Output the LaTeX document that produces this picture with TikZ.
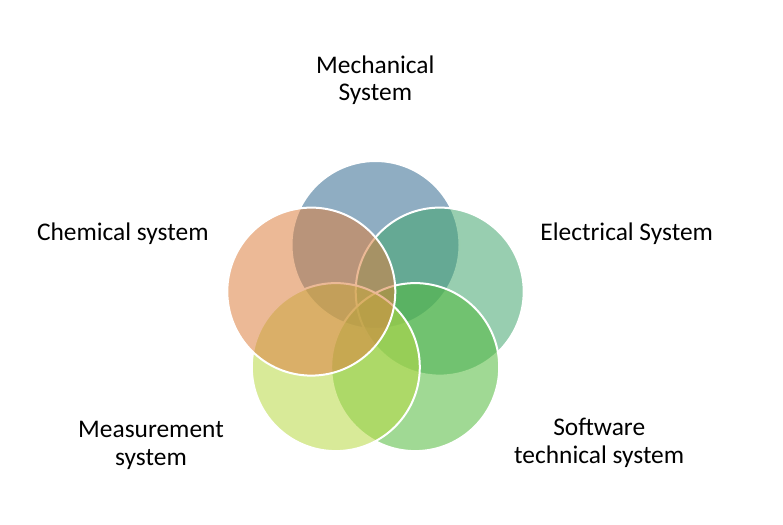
\documentclass[tikz,border=0pt]{standalone}
\usepackage{fontspec}
\setmainfont{Carlito}
\definecolor{mechblue}{RGB}{51,106,144}
\definecolor{elecgreen}{RGB}{68,166,111}
\definecolor{softgreen}{RGB}{82,186,60}
\definecolor{measlime}{RGB}{184,217,68}
\definecolor{chemorange}{RGB}{220,128,64}
\tikzset{
  venn/.style={circle, minimum size=168pt, inner sep=0pt, draw=white, line width=2pt, fill opacity=0.55},
  venntext/.style={font=\fontsize{25.4}{27.6}\selectfont, align=center, anchor=base, inner sep=0pt}
}
\begin{document}
\begin{tikzpicture}[x=1pt,y=-1pt]
        \useasboundingbox (0,0) rectangle (783,524);
        \node[venn, fill=mechblue] (mech) at (375.5,245) {};
        \node[venn, fill=elecgreen] (elec) at (439.7,291.6) {};
        \node[venn, fill=softgreen] (soft) at (415.2,367.1) {};
        \node[venn, fill=measlime] (meas) at (335.8,367.1) {};
        \node[venn, fill=chemorange] (chem) at (311.3,291.6) {};
        
        \node[venntext] (mechtext) at (375.3,101) {Mechanical\\System};
        \node[venntext] (electext) at (626.7,240.5) {Electrical System};
        \node[venntext] (softtext) at (599.2,463.5) {Software\\technical system};
        \node[venntext] (meastext) at (151,465) {Measurement\\system};
        \node[venntext] (chemtext) at (122.8,240.5) {Chemical system};
    \end{tikzpicture}
\end{document}
